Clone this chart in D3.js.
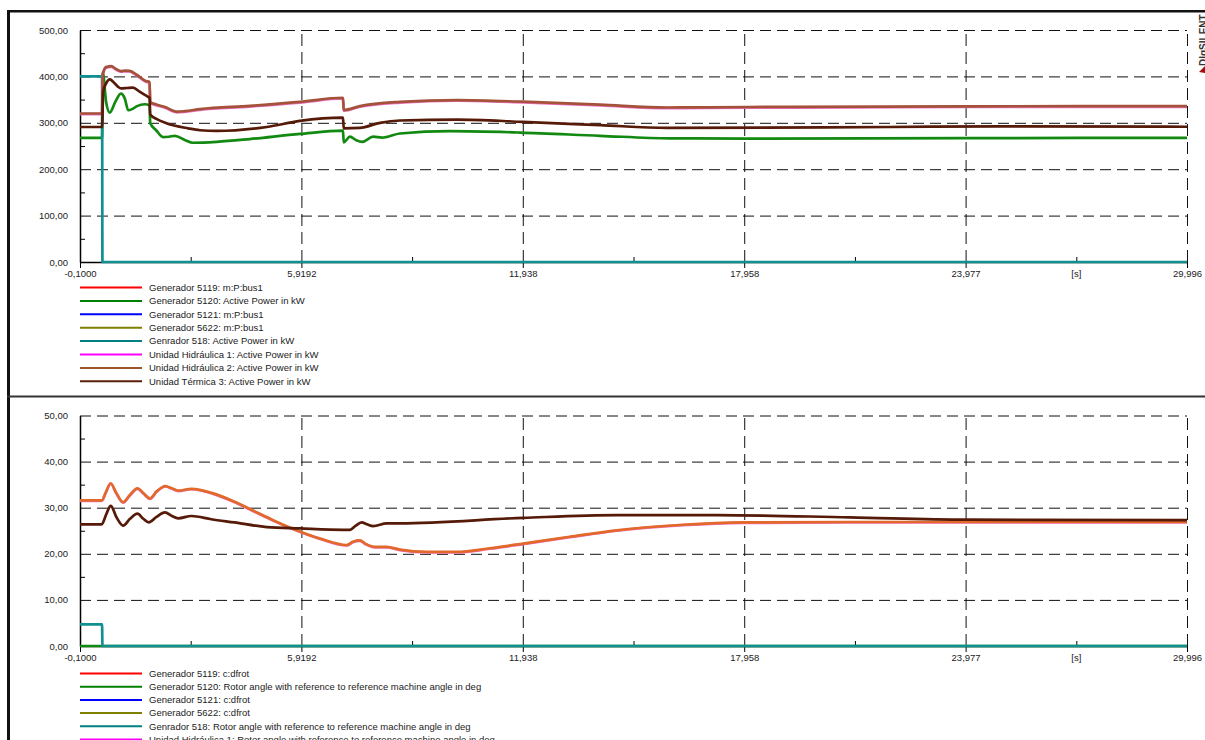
<!DOCTYPE html>
<html>
<head>
<meta charset="utf-8">
<script src="https://cdn.jsdelivr.net/npm/d3@7"></script>
<style>
  html, body { margin: 0; padding: 0; background: #fff; }
  svg { display: block; font-family: "Liberation Sans", Arial, sans-serif; }
</style>
</head>
<body>
<svg id="chart" width="1205" height="740"></svg>
<script>
// ---------- axis ticks ----------
const xTickVals   = [-0.1, 5.9192, 11.938, 17.958, 23.977, 29.996];
const xTickLabels = ["-0,1000", "5,9192", "11,938", "17,958", "23,977", "29,996"];
const xMinorVals  = [2.9096, 8.9288, 14.948, 20.968, 26.987];
const xUnitLabel  = "[s]";
const pTicks = [0, 100, 200, 300, 400, 500];
const pMinor = [50, 150, 250, 350, 450];
const aTicks = [0, 10, 20, 30, 40, 50];
const aMinor = [5, 15, 25, 35, 45];

// ---------- top panel: active power (kW) ----------
const tGen518P = [-0.1, 0.5, 0.51, 29.996];
const pGen518  = [400, 400, 0, 0];

const tGen5120P = [-0.1, 0.5, 0.52, 0.61, 0.71, 0.86, 1.01, 1.12, 1.21, 1.33, 1.45, 1.66, 1.79, 1.81, 1.97, 2.16, 2.32, 2.48, 2.75, 2.97, 3.62, 4.52, 5.88, 7.05, 7.07, 7.24, 7.40, 7.57, 7.87, 8.11, 8.6, 9.96, 11.86, 14.04, 15.94, 18.0, 24.0, 29.996];
const pGen5120  = [267.6, 267.6, 408, 345, 322, 345, 363, 352, 327, 330, 336, 340, 338, 299, 284, 269, 270, 272, 263, 257, 259, 265, 276, 283, 258, 270, 263, 259, 270, 268, 277, 282, 279, 272, 266.5, 266, 267, 267.5];

const tHidP = [-0.1, 0.5, 0.52, 0.61, 0.75, 0.88, 1.02, 1.12, 1.25, 1.45, 1.69, 1.79, 1.81, 1.99, 2.21, 2.54, 2.75, 3.16, 4.52, 5.88, 7.05, 7.07, 7.51, 8.6, 10.15, 11.94, 14.04, 15.86, 18.1, 24.0, 29.996];
const pHid1 = [318.5, 318.5, 403.5, 418.5, 420.5, 414.5, 410, 411, 410.5, 401.5, 388.5, 386.5, 343.5, 337.5, 332.5, 322.5, 323.5, 328, 335, 343.5, 352.5, 326, 334.5, 343.5, 347.5, 344, 337.5, 331.5, 332.5, 334, 334.5];
const pHid2 = [320, 320, 405, 420, 422, 416, 411.5, 412.5, 412, 403, 390, 388, 345, 339, 334, 324, 325, 329.5, 336.5, 345, 354, 327.5, 336, 345, 349, 345.5, 339, 333, 334, 335.5, 336];

const tTer3P = [-0.1, 0.5, 0.53, 0.61, 0.71, 0.82, 0.93, 1.02, 1.18, 1.34, 1.52, 1.75, 1.79, 1.81, 1.99, 2.25, 2.84, 3.16, 3.62, 4.98, 5.88, 7.05, 7.07, 7.51, 8.06, 8.6, 10.15, 11.94, 14.04, 15.86, 21.9, 24.9, 29.996];
const pTer3  = [291, 291, 367, 385, 393.5, 387, 378, 374, 375, 376, 367, 356, 354, 318, 308, 299, 288, 284, 282.5, 291, 304, 311, 288, 289, 300, 305, 307, 302, 295, 289, 291, 292.5, 291.5];

// ---------- bottom panel: rotor angle (deg) ----------
const tGen518A = [-0.1, 0.5, 0.51, 29.996];
const aGen518  = [4.7, 4.7, 0, 0];
const tGen5120A = [-0.1, 29.996];
const aGen5120  = [0, 0];

const tHidA = [-0.1, 0.49, 0.61, 0.735, 0.88, 1.07, 1.25, 1.46, 1.62, 1.80, 1.99, 2.22, 2.40, 2.57, 2.93, 3.52, 4.07, 4.60, 5.15, 5.70, 6.43, 7.15, 7.32, 7.51, 7.68, 7.92, 8.24, 8.6, 9.33, 10.14, 11.05, 11.95, 13.22, 14.49, 16.30, 17.93, 20.8, 24.0, 29.996];
const aHid1 = [31.5, 31.5, 33.4, 35.2, 33.2, 31.1, 32.6, 34.1, 33.1, 31.9, 33.5, 34.6, 34.1, 33.6, 34.0, 33.0, 31.3, 29.3, 27.2, 25.3, 23.2, 21.8, 22.5, 22.8, 22.0, 21.4, 21.4, 20.8, 20.3, 20.3, 21.1, 22.1, 23.6, 25.0, 26.2, 26.7, 26.8, 26.8, 26.8];
const aHid2 = [31.6, 31.6, 33.5, 35.3, 33.3, 31.2, 32.7, 34.2, 33.2, 32.0, 33.6, 34.7, 34.2, 33.7, 34.1, 33.1, 31.4, 29.4, 27.3, 25.4, 23.3, 21.9, 22.6, 22.9, 22.1, 21.5, 21.5, 20.9, 20.4, 20.4, 21.2, 22.2, 23.7, 25.1, 26.3, 26.8, 26.9, 26.9, 26.9];

const tTer3A = [-0.1, 0.49, 0.61, 0.735, 0.90, 1.07, 1.26, 1.46, 1.62, 1.77, 1.98, 2.21, 2.40, 2.57, 2.93, 3.47, 4.10, 4.98, 5.88, 7.05, 7.24, 7.38, 7.56, 7.70, 7.87, 8.24, 8.6, 11.95, 14.49, 17.21, 20.83, 24.01, 29.996];
const aTer3  = [26.4, 26.4, 28.5, 30.4, 27.8, 26.1, 27.6, 28.7, 27.6, 26.8, 28.0, 29.0, 28.2, 27.7, 28.2, 27.5, 26.8, 25.8, 25.5, 25.2, 25.2, 26.0, 26.8, 26.4, 26.0, 26.6, 26.6, 27.8, 28.4, 28.4, 27.9, 27.4, 27.3];

// ---------- legends ----------
const legendTopLabels = [
  "Generador 5119: m:P:bus1",
  "Generador 5120: Active Power in kW",
  "Generador 5121: m:P:bus1",
  "Generador 5622: m:P:bus1",
  "Genrador 518: Active Power in kW",
  "Unidad Hidráulica 1: Active Power in kW",
  "Unidad Hidráulica 2: Active Power in kW",
  "Unidad Térmica 3: Active Power in kW"
];
const legendBottomLabels = [
  "Generador 5119: c:dfrot",
  "Generador 5120: Rotor angle with reference to reference machine angle in deg",
  "Generador 5121: c:dfrot",
  "Generador 5622: c:dfrot",
  "Genrador 518: Rotor angle with reference to reference machine angle in deg",
  "Unidad Hidráulica 1: Rotor angle with reference to reference machine angle in deg"
];
const legendTopColors    = ["#ff0000", "#008000", "#0000ff", "#808000", "#008080", "#ff00ff", "#a0522d", "#5a1e0a"];
const legendBottomColors = ["#ff0000", "#008000", "#0000ff", "#808000", "#008080", "#ff00ff"];

// ---------- drawing ----------
const svg = d3.select("#chart");
const FONT = 9.5;
const zip = (ts, vs) => ts.map((t, i) => [t, vs[i]]);

const x = d3.scaleLinear().domain([-0.1, 29.996]).range([80, 1187]);

function panel(opts) {
  const y = d3.scaleLinear().domain(opts.domain).range([opts.yBottom, opts.yTop]);
  const g = svg.append("g");
  const width = x.range()[1] - x.range()[0];
  const height = opts.yBottom - opts.yTop;

  // horizontal grid
  const hg = g.append("g").attr("transform", `translate(${x.range()[0]},0)`)
    .call(d3.axisLeft(y).tickValues(opts.ticks.filter(v => v > opts.domain[0])).tickSize(-width).tickFormat(""));
  hg.select(".domain").remove();
  hg.selectAll("line").attr("stroke", "#111").attr("stroke-dasharray", "11,6");

  // vertical grid
  const vg = g.append("g").attr("transform", `translate(0,${opts.yBottom})`)
    .call(d3.axisBottom(x).tickValues(xTickVals.slice(1)).tickSize(-height).tickFormat(""));
  vg.select(".domain").remove();
  vg.selectAll("line").attr("stroke", "#111").attr("stroke-dasharray", "12,6");

  // y axis
  const ya = g.append("g").attr("transform", `translate(${x.range()[0]},0)`)
    .call(d3.axisLeft(y).tickValues(opts.ticks).tickSize(0).tickSizeOuter(0).tickPadding(12)
      .tickFormat(d => d3.format(".2f")(d).replace(".", ",")));
  ya.select(".domain").attr("stroke", "#000").attr("stroke-width", 1.5);
  ya.selectAll("text").attr("font-size", FONT).attr("fill", "#222").attr("font-family", null);
  const ym = g.append("g").attr("transform", `translate(${x.range()[0]},0)`)
    .call(d3.axisLeft(y).tickValues(opts.minor).tickSize(-5).tickFormat(""));
  ym.select(".domain").remove();
  ym.selectAll("line").attr("stroke", "#000");

  // x axis
  const xa = g.append("g").attr("transform", `translate(0,${opts.yBottom})`)
    .call(d3.axisBottom(x).tickValues(xTickVals).tickSize(6).tickSizeOuter(0).tickPadding(2)
      .tickFormat((d, i) => xTickLabels[i]));
  xa.select(".domain").attr("stroke", "#000").attr("stroke-width", 1.5);
  xa.selectAll("line").attr("stroke", "#000");
  xa.selectAll("text").attr("font-size", FONT).attr("fill", "#222").attr("font-family", null);
  const xm = g.append("g").attr("transform", `translate(0,${opts.yBottom})`)
    .call(d3.axisBottom(x).tickValues(xMinorVals).tickSize(-5).tickFormat(""));
  xm.select(".domain").remove();
  xm.selectAll("line").attr("stroke", "#000");
  g.append("text").attr("x", x(xMinorVals[4])).attr("y", opts.yBottom + 8).attr("dy", "0.71em")
    .attr("text-anchor", "middle").attr("font-size", FONT).attr("fill", "#222").text(xUnitLabel);

  // curves
  const line = d3.line().x(d => x(d[0])).y(d => y(d[1])).curve(d3.curveMonotoneX);
  opts.series.forEach(s => {
    g.append("path").datum(s.data).attr("d", line)
      .attr("fill", "none").attr("stroke", s.color).attr("stroke-width", s.w || 2.7)
      .attr("stroke-linejoin", "round");
  });

  // legend
  const lg = g.append("g");
  opts.legend.forEach((lab, i) => {
    const yy = opts.legendY + i * opts.legendStep;
    lg.append("line").attr("x1", 80).attr("x2", 142).attr("y1", yy).attr("y2", yy)
      .attr("stroke", opts.legendColors[i]).attr("stroke-width", 2);
    lg.append("text").attr("x", 149).attr("y", yy).attr("dy", "0.35em")
      .attr("font-size", FONT).attr("fill", "#222").text(lab);
  });
}

panel({
  domain: [0, 500], yTop: 30, yBottom: 262, ticks: pTicks, minor: pMinor,
  legend: legendTopLabels, legendColors: legendTopColors, legendY: 287.5, legendStep: 13.4,
  series: [
    { data: zip(tGen5120P, pGen5120), color: "#128a12" },
    { data: zip(tGen518P, pGen518), color: "#109090" },
    { data: zip(tHidP, pHid1), color: "#f070c8" },
    { data: zip(tHidP, pHid2), color: "#a5523a" },
    { data: zip(tTer3P, pTer3), color: "#561a08" }
  ]
});

panel({
  domain: [0, 50], yTop: 415.5, yBottom: 646, ticks: aTicks, minor: aMinor,
  legend: legendBottomLabels, legendColors: legendBottomColors, legendY: 673.5, legendStep: 13.2,
  series: [
    { data: zip(tGen5120A, aGen5120), color: "#128a12" },
    { data: zip(tGen518A, aGen518), color: "#109090" },
    { data: zip(tHidA, aHid1), color: "#f070c8" },
    { data: zip(tHidA, aHid2), color: "#e2692a" },
    { data: zip(tTer3A, aTer3), color: "#561a08" }
  ]
});

// frame
svg.append("line").attr("x1", 8.5).attr("x2", 8.5).attr("y1", 10).attr("y2", 740).attr("stroke", "#111").attr("stroke-width", 3);
svg.append("line").attr("x1", 7).attr("x2", 1205).attr("y1", 11.2).attr("y2", 11.2).attr("stroke", "#111").attr("stroke-width", 2.5);
svg.append("line").attr("x1", 7).attr("x2", 1205).attr("y1", 396.5).attr("y2", 396.5).attr("stroke", "#333").attr("stroke-width", 2);

// DIgSILENT mark
svg.append("text").attr("transform", "translate(1207,66) rotate(-90)")
  .attr("font-size", 10).attr("font-weight", "bold").attr("fill", "#333").text("DIgSILENT");
svg.append("path").attr("d", "M1199,72 L1205,66 L1205,73 Z").attr("fill", "#a01010");
</script>
</body>
</html>
